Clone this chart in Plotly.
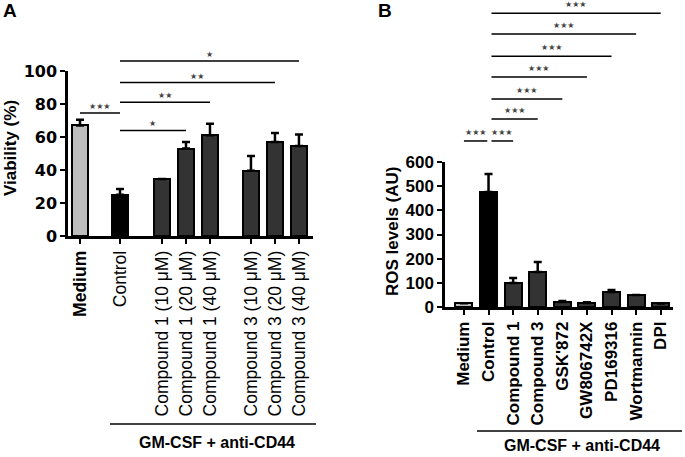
import plotly.graph_objects as go

# panel A: viability
a_labels = ["<b>Medium</b>", "Control", "Compound 1 (10 μM)", "Compound 1 (20 μM)", "Compound 1 (40 μM)",
            "Compound 3 (10 μM)", "Compound 3 (20 μM)", "Compound 3 (40 μM)"]
a_values = [67, 25, 34.5, 53, 61, 39.5, 57, 54.5]
a_errors = [3.5, 3.5, None, 4, 7, 9, 5.5, 7]
a_sig = [(0, 1, 74.5, 3), (1, 3, 64, 1), (1, 4, 81, 2), (1, 6, 93, 2), (1, 7, 106, 1)]
a_ticks = [0, 20, 40, 60, 80, 100]

# panel B: ROS levels
b_labels = ["Medium", "Control", "Compound 1", "Compound 3", "GSK'872", "GW806742X",
            "PD169316", "Wortmannin", "DPI"]
b_values = [16, 476, 99, 145, 21, 17, 62, 50, 15]
b_errors = [None, 74, 21, 41, 4, 3, 8, None, None]
b_sig = [(0, 1, 687, 3), (1, 2, 687, 3), (1, 3, 778, 3), (1, 4, 861, 3),
         (1, 5, 952, 3), (1, 6, 1038, 3), (1, 7, 1130, 3), (1, 8, 1216, 3)]
b_ticks = [0, 100, 200, 300, 400, 500, 600]

W, H = 685, 457
a_pos = [0, 1.667, 3.417, 4.417, 5.417, 7.125, 8.125, 9.125]
b_pos = list(range(len(b_labels)))
a_colors = ["#bdbdbd", "#000000"] + ["#333333"] * 6
b_colors = ["#bdbdbd", "#000000"] + ["#333333"] * 7

FONT = "Arial, Liberation Sans, sans-serif"


def px_x(p):
    return p / W


def px_y(p):
    return 1 - p / H


# pixel geometry of the two panels
a_dom_x = [px_x(68), px_x(313)]
a_bot, a_top, a_ext = px_y(236), px_y(71), px_y(40)
b_dom_x = [px_x(445), px_x(673)]
b_bot, b_top, b_ext = px_y(307), px_y(162), 1.0

a_ext_range = 100 * (a_ext - a_bot) / (a_top - a_bot)
b_ext_range = 600 * (b_ext - b_bot) / (b_top - b_bot)

fig = go.Figure()

for xs, vals, errs, cols, xa, ya, w in [
    (a_pos, a_values, a_errors, a_colors, "x", "y", 0.67),
    (b_pos, b_values, b_errors, b_colors, "x2", "y2", 0.69),
]:
    fig.add_trace(go.Bar(
        x=xs, y=vals, width=w, xaxis=xa, yaxis=ya,
        marker=dict(color=cols, line=dict(color="black", width=2)),
        error_y=dict(type="data", array=errs, arrayminus=[0] * len(errs), symmetric=False,
                     color="black", thickness=2.5, width=4),
        showlegend=False, hoverinfo="skip",
    ))

annotations = []


def add_sig(sig, pos, xa, ya, shift_first, yshift):
    lx, ly = [], []
    for i, j, lvl, n in sig:
        x0 = pos[i] + (0.12 if (i == 1 and shift_first) else 0)
        x1 = pos[j] - (0.05 if (j == 1 and shift_first) else 0)
        lx += [x0, x1, None]
        ly += [lvl, lvl, None]
        annotations.append(dict(x=(x0 + x1) / 2, y=lvl, xref=xa, yref=ya, text="★" * n,
                                showarrow=False, yanchor="bottom", yshift=yshift,
                                font=dict(family="DejaVu Sans", size=8, color="#444444")))
    fig.add_trace(go.Scatter(x=lx, y=ly, mode="lines", xaxis=xa, yaxis=ya,
                             line=dict(color="black", width=1.5),
                             showlegend=False, hoverinfo="skip"))


add_sig(a_sig, a_pos, "x", "y3", False, 0)
add_sig(b_sig, b_pos, "x2", "y4", True, 2)

xcommon = dict(showline=True, linecolor="black", linewidth=2.5, ticks="outside", ticklen=5,
               tickwidth=2, tickcolor="black", tickangle=-90, showgrid=False, zeroline=False)
ycommon = dict(showline=True, linecolor="black", linewidth=2.5, ticks="outside", ticklen=5,
               tickwidth=2, tickcolor="black", showgrid=False, zeroline=False)

fig.update_layout(
    width=W, height=H,
    margin=dict(l=0, r=0, t=0, b=0, autoexpand=False),
    plot_bgcolor="rgba(0,0,0,0)", paper_bgcolor="white",
    bargap=0,
    xaxis=dict(domain=a_dom_x, range=[-0.5, 9.71], anchor="y", tickvals=a_pos, ticktext=a_labels,
               tickfont=dict(family=FONT, size=17.5, color="black"), **xcommon),
    yaxis=dict(domain=[a_bot, a_top], range=[0, 100], anchor="x", tickvals=a_ticks,
               tickfont=dict(family="DejaVu Sans", size=16, color="black", weight="bold"), **ycommon),
    yaxis3=dict(domain=[a_bot, a_ext], range=[0, a_ext_range], anchor="x", visible=False),
    xaxis2=dict(domain=b_dom_x, range=[-0.77, 8.5], anchor="y2", tickvals=b_pos, ticktext=b_labels,
                tickfont=dict(family=FONT, size=17, color="black", weight="bold"), **xcommon),
    yaxis2=dict(domain=[b_bot, b_top], range=[0, 600], anchor="x2", tickvals=b_ticks,
                tickfont=dict(family=FONT, size=17, color="black", weight="bold"), **ycommon),
    yaxis4=dict(domain=[b_bot, b_ext], range=[0, b_ext_range], anchor="x2", visible=False),
)

# brackets under the x labels
shapes = [
    dict(type="line", xref="paper", yref="paper", x0=px_x(110), x1=px_x(316), y0=px_y(424), y1=px_y(424),
         line=dict(color="black", width=1.5)),
    dict(type="line", xref="paper", yref="paper", x0=px_x(477), x1=px_x(682), y0=px_y(431), y1=px_y(431),
         line=dict(color="black", width=1.5)),
]

text_items = [
    ("GM-CSF + anti-CD44", 217, 442, 0, 16, "bold"),
    ("GM-CSF + anti-CD44", 582, 445, 0, 16, "bold"),
    ("Viability (%)", 10, 148, -90, 17, "bold"),
    ("ROS levels (AU)", 392, 231, -90, 17, "bold"),
    ("A", 10, 11, 0, 19, "bold"),
    ("B", 385, 10, 0, 19, "bold"),
]
for txt, x, y, ang, size, wt in text_items:
    annotations.append(dict(x=px_x(x), y=px_y(y), xref="paper", yref="paper", text=txt,
                            showarrow=False, textangle=ang, xanchor="center", yanchor="middle",
                            font=dict(family=FONT, size=size, color="black", weight=wt)))

fig.update_layout(shapes=shapes, annotations=annotations)

fig.write_html("out.html", config={"displayModeBar": False},
               post_script="document.body.style.margin='0';")
